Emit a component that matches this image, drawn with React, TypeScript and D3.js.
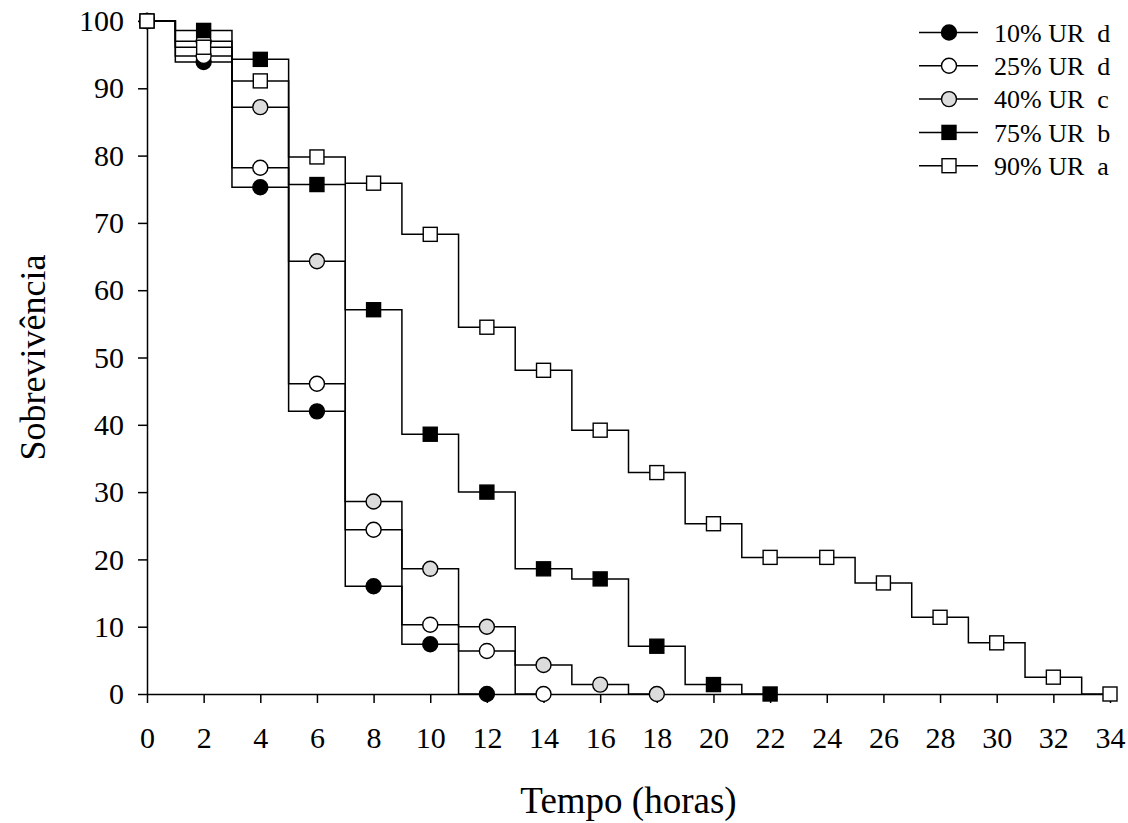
import * as d3 from 'd3';
import { useEffect, useRef } from 'react';

const hours = [0, 2, 4, 6, 8, 10, 12, 14, 16, 18, 20, 22, 24, 26, 28, 30, 32, 34];

const ur10 = [100, 93.9, 75.3, 42.0, 16.0, 7.4, 0];
const ur25 = [100, 94.8, 78.2, 46.1, 24.4, 10.3, 6.4, 0];
const ur40 = [100, 97.0, 87.2, 64.3, 28.6, 18.6, 10.0, 4.3, 1.4, 0];
const ur75 = [100, 98.6, 94.3, 75.7, 57.1, 38.6, 30.0, 18.6, 17.1, 7.1, 1.4, 0];
const ur90 = [100, 96.1, 91.1, 79.8, 75.9, 68.3, 54.5, 48.1, 39.2, 32.9, 25.3, 20.3, 20.3, 16.5, 11.4, 7.6, 2.5, 0];

const seriesNames = ['10% UR  d', '25% UR  d', '40% UR  c', '75% UR  b', '90% UR  a'];
const seriesValues = [ur10, ur25, ur40, ur75, ur90];
const markerShape = ['circle', 'circle', 'circle', 'square', 'square'];
const markerFill = ['#000000', '#ffffff', '#dcdcdc', '#000000', '#ffffff'];

const xTicks = d3.range(0, 35, 2);
const yTicks = d3.range(0, 101, 10);

const W = 1128;
const H = 823;
const FONT = '"Liberation Serif", "Times New Roman", serif';

export default function App() {
  const svgRef = useRef<SVGSVGElement>(null);

  useEffect(() => {
    drawChart(svgRef.current!);
  }, []);

  return (
    <svg ref={svgRef} width={W} height={H}
      style={{ position: 'absolute', left: 0, top: 0, background: '#fff' }} />
  );
}

function drawMarker(g: any, shape: string, fill: string, x: number, y: number) {
  if (shape === 'circle') {
    g.append('circle')
      .attr('cx', x).attr('cy', y).attr('r', 7.5)
      .attr('fill', fill).attr('stroke', '#000').attr('stroke-width', 1.4);
  } else {
    g.append('rect')
      .attr('x', x - 7).attr('y', y - 7).attr('width', 14).attr('height', 14)
      .attr('fill', fill).attr('stroke', '#000').attr('stroke-width', 1.4);
  }
}

function drawChart(el: SVGSVGElement) {
  const svg = d3.select(el);
  svg.selectAll('*').remove();

  const xScale = d3.scaleLinear().domain([0, 34]).range([147, 1110]);
  const yScale = d3.scaleLinear().domain([0, 100]).range([694, 21]);

  // axes
  const xAxis = d3.axisBottom(xScale).tickValues(xTicks).tickSize(9).tickSizeOuter(0).tickPadding(24);
  const yAxis = d3.axisLeft(yScale).tickValues(yTicks).tickSize(9).tickSizeOuter(0).tickPadding(14);

  const gx = svg.append('g').attr('transform', 'translate(0,694)').call(xAxis);
  const gy = svg.append('g').attr('transform', 'translate(147,0)').call(yAxis);

  for (const g of [gx, gy]) {
    g.select('.domain').attr('stroke', '#000').attr('stroke-width', 1.5);
    g.selectAll('.tick line').attr('stroke', '#000').attr('stroke-width', 1.5);
    g.selectAll('.tick text')
      .attr('fill', '#000')
      .style('font-family', FONT)
      .style('font-size', '30px');
  }

  svg.append('text')
    .attr('x', (xScale(0) + xScale(34)) / 2)
    .attr('y', 813)
    .attr('text-anchor', 'middle')
    .style('font-family', FONT)
    .style('font-size', '37px')
    .text('Tempo (horas)');

  svg.append('text')
    .attr('transform', `translate(45,${(yScale(0) + yScale(100)) / 2}) rotate(-90)`)
    .attr('text-anchor', 'middle')
    .style('font-family', FONT)
    .style('font-size', '36px')
    .text('Sobrevivência');

  const line = d3.line<number>()
    .x((d, i) => xScale(hours[i]))
    .y(d => yScale(d))
    .curve(d3.curveStep);

  // step lines
  seriesValues.forEach(vals => {
    svg.append('path')
      .attr('d', line(vals))
      .attr('fill', 'none')
      .attr('stroke', '#000')
      .attr('stroke-width', 1.5);
  });

  // markers
  seriesValues.forEach((vals, s) => {
    const g = svg.append('g');
    vals.forEach((v, i) => drawMarker(g, markerShape[s], markerFill[s], xScale(hours[i]), yScale(v)));
  });

  // legend
  const leg = svg.append('g');
  seriesNames.forEach((name, s) => {
    const y = 32.5 + s * 33.3;
    leg.append('line')
      .attr('x1', 919).attr('x2', 978).attr('y1', y).attr('y2', y)
      .attr('stroke', '#000').attr('stroke-width', 1.5);
    drawMarker(leg, markerShape[s], markerFill[s], 949, y);
    leg.append('text')
      .attr('x', 994).attr('y', y)
      .attr('dy', '0.35em')
      .attr('xml:space', 'preserve')
      .style('white-space', 'pre')
      .style('font-family', FONT)
      .style('font-size', '26px')
      .text(name);
  });
}
